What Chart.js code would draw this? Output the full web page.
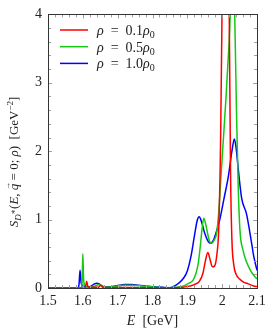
<!DOCTYPE html>
<html>
<head>
<meta charset="utf-8">
<script src="https://cdn.jsdelivr.net/npm/chart.js@4/dist/chart.umd.min.js"></script>
<style>
  html, body { margin: 0; padding: 0; background: #fff; }
  #wrap { width: 274px; height: 333px; }
</style>
</head>
<body>
<div id="wrap"><canvas id="myChart" width="274" height="333"></canvas></div>
<script>
// spectral function data
const redE = [1.5, 1.606, 1.609, 1.611, 1.614, 1.62, 1.645, 1.651, 1.657, 1.68, 1.72, 1.76, 1.85, 1.9, 1.92, 1.935, 1.945, 1.952, 1.959, 1.965, 1.972, 1.978, 1.985, 1.99, 1.995, 2.0, 2.005, 2.01, 2.015, 2.02, 2.024, 2.028, 2.033, 2.04, 2.05, 2.06, 2.075, 2.09, 2.1];
const redS = [0, 0, 0.05, 0.1, 0.03, 0.01, 0.01, 0.04, 0.01, 0.005, 0.008, 0.005, 0.003, 0.02, 0.05, 0.1, 0.22, 0.4, 0.52, 0.42, 0.31, 0.32, 0.5, 0.85, 2.0, 4.2, 9, 11, 9, 4.2, 1.7, 0.7, 0.35, 0.2, 0.13, 0.09, 0.06, 0.03, 0.02];

const greenE = [1.5, 1.595, 1.598, 1.6, 1.602, 1.605, 1.61, 1.62, 1.63, 1.64, 1.647, 1.655, 1.665, 1.68, 1.7, 1.72, 1.74, 1.77, 1.8, 1.84, 1.87, 1.89, 1.905, 1.917, 1.925, 1.931, 1.937, 1.942, 1.947, 1.952, 1.958, 1.964, 1.97, 1.977, 1.984, 1.99, 1.995, 2.0, 2.01, 2.02, 2.026, 2.031, 2.036, 2.041, 2.046, 2.051, 2.06, 2.07, 2.08, 2.09, 2.1];
const greenS = [0, 0, 0.1, 0.5, 0.15, 0.05, 0.02, 0.01, 0.02, 0.04, 0.05, 0.03, 0.015, 0.015, 0.03, 0.04, 0.04, 0.03, 0.015, 0.005, 0.01, 0.03, 0.07, 0.12, 0.22, 0.35, 0.6, 0.85, 1.02, 0.95, 0.8, 0.68, 0.655, 0.7, 0.8, 1.1, 1.5, 1.9, 2.7, 3.6, 4.3, 4.5, 4.0, 2.6, 1.5, 0.85, 0.55, 0.38, 0.27, 0.19, 0.13];

const blueE = [1.5, 1.585, 1.589, 1.592, 1.595, 1.6, 1.61, 1.62, 1.63, 1.64, 1.65, 1.66, 1.68, 1.7, 1.72, 1.74, 1.76, 1.8, 1.83, 1.85, 1.86, 1.875, 1.89, 1.9, 1.91, 1.92, 1.928, 1.934, 1.94, 1.95, 1.96, 1.967, 1.975, 1.985, 1.994, 2.005, 2.018, 2.028, 2.035, 2.04, 2.046, 2.056, 2.07, 2.085, 2.09, 2.1];
const blueS = [0, 0, 0.05, 0.26, 0.08, 0.03, 0.02, 0.02, 0.05, 0.07, 0.05, 0.02, 0.02, 0.035, 0.05, 0.05, 0.04, 0.02, 0.01, 0.005, 0.02, 0.07, 0.15, 0.25, 0.45, 0.75, 0.98, 1.04, 0.98, 0.8, 0.68, 0.655, 0.7, 0.85, 1.02, 1.3, 1.64, 2.0, 2.18, 2.05, 1.75, 1.31, 1.08, 0.64, 0.48, 0.26];

const densities = ["0.1", "0.5", "1.0"];
const colors = ["rgb(255, 0, 0)", "rgb(20, 200, 20)", "rgb(0, 0, 255)"];

const xTicks = [1.5, 1.6, 1.7, 1.8, 1.9, 2.0, 2.1];
const xTickLabels = ["1.5", "1.6", "1.7", "1.8", "1.9", "2", "2.1"];
const yTicks = [0, 1, 2, 3, 4];
const yTickLabels = ["0", "1", "2", "3", "4"];

const FONT = "'Liberation Serif', 'DejaVu Serif', serif";

function toPoints(xs, ys) {
  return xs.map((x, i) => ({ x: x, y: ys[i] }));
}

// draw a line of mixed italic / upright / sub / superscript text
function drawRich(ctx, segs, x, y, align) {
  const fontOf = (s) => (s.i ? "italic " : "") + (s.s || 14) + "px " + FONT;
  let total = 0;
  segs.forEach((s) => {
    ctx.font = fontOf(s);
    s.w = ctx.measureText(s.t).width;
    total += s.w;
  });
  let cx = align === "center" ? x - total / 2 : x;
  segs.forEach((s) => {
    ctx.font = fontOf(s);
    ctx.fillText(s.t, cx, y + (s.dy || 0));
    if (s.accent) {
      ctx.font = "8px " + FONT;
      const aw = ctx.measureText(s.accent).width;
      ctx.fillText(s.accent, cx + s.w / 2 - aw / 2 + 1, y - 8);
    }
    cx += s.w;
  });
}

const frameTicks = {
  id: "frameTicks",
  afterDatasetsDraw(chart) {
    const { ctx, chartArea: a, scales } = chart;
    const xs = scales.x, ys = scales.y;
    ctx.save();
    ctx.strokeStyle = "#a0a0a0";
    ctx.lineWidth = 1;
    ctx.beginPath();
    for (let k = 0; k <= 30; k++) {
      const v = 1.5 + k * 0.02;
      const px = Math.round(xs.getPixelForValue(v)) + 0.5;
      const len = k % 5 === 0 ? 4 : 3;
      ctx.moveTo(px, a.bottom); ctx.lineTo(px, a.bottom - len);
      ctx.moveTo(px, a.top); ctx.lineTo(px, a.top + len);
    }
    for (let k = 0; k <= 20; k++) {
      const v = k * 0.2;
      const py = Math.round(ys.getPixelForValue(v)) + 0.5;
      const len = k % 5 === 0 ? 4 : 3;
      ctx.moveTo(a.left, py); ctx.lineTo(a.left + len, py);
      ctx.moveTo(a.right, py); ctx.lineTo(a.right - len, py);
    }
    ctx.stroke();
    ctx.strokeStyle = "#333";
    ctx.strokeRect(Math.round(a.left) + 0.5, Math.round(a.top) + 0.5, Math.round(a.right - a.left), Math.round(a.bottom - a.top));
    ctx.restore();
  },
  afterDraw(chart) {
    const { ctx, chartArea: a } = chart;
    ctx.save();
    ctx.fillStyle = "#222";
    ctx.textBaseline = "alphabetic";
    // x axis title
    drawRich(ctx, [{ t: "E", i: true }, { t: "  [GeV]" }], (a.left + a.right) / 2, 325, "center");
    // y axis title
    ctx.translate(18, 162);
    ctx.rotate(-Math.PI / 2);
    drawRich(ctx, [
      { t: "S", i: true, s: 13 },
      { t: "D", i: true, s: 9, dy: 3 },
      { t: "\u2217", s: 8, dy: -2 },
      { t: "(", s: 13 },
      { t: "E", i: true, s: 13 },
      { t: ", ", s: 13 },
      { t: "q", i: true, s: 13, accent: "\u2192" },
      { t: " = 0; ", s: 13 },
      { t: "\u03C1", i: true, s: 13 },
      { t: ")  [GeV", s: 13 },
      { t: "\u22122", s: 9, dy: -5 },
      { t: "]", s: 13 },
    ], 0, 0, "center");
    ctx.restore();

    // legend
    ctx.save();
    densities.forEach((d, i) => {
      const ly = 30 + i * 16.7;
      ctx.strokeStyle = colors[i];
      ctx.lineWidth = 1.5;
      ctx.beginPath();
      ctx.moveTo(60, ly);
      ctx.lineTo(88, ly);
      ctx.stroke();
      ctx.fillStyle = "#222";
      drawRich(ctx, [
        { t: "\u03C1", i: true },
        { t: "\u2002=\u2002" + d },
        { t: "\u03C1", i: true },
        { t: "0", s: 10, dy: 3 },
      ], 97, ly + 5, "left");
    });
    ctx.restore();
  },
};

const ctx = document.getElementById("myChart").getContext("2d");
const series = [[redE, redS], [greenE, greenS], [blueE, blueS]];

new Chart(ctx, {
  type: "line",
  data: {
    datasets: series.map((s, i) => ({
      label: "\u03C1 = " + densities[i] + "\u03C10",
      data: toPoints(s[0], s[1]),
      borderColor: colors[i],
      borderWidth: 1.5,
      pointRadius: 0,
      fill: false,
      cubicInterpolationMode: "monotone",
    })),
  },
  options: {
    responsive: false,
    animation: false,
    layout: { padding: { top: 9, right: 17, left: 0, bottom: 0 } },
    plugins: { legend: { display: false }, tooltip: { enabled: false } },
    scales: {
      x: {
        type: "linear",
        min: 1.5,
        max: 2.1,
        grid: { display: false, drawTicks: false },
        border: { display: false },
        afterBuildTicks: (s) => { s.ticks = xTicks.map((v) => ({ value: v })); },
        afterFit: (s) => { s.height = 45; },
        ticks: {
          padding: 5,
          maxRotation: 0,
          autoSkip: false,
          color: "#222",
          font: { family: FONT, size: 14 },
          callback: (v) => xTickLabels[xTicks.findIndex((t) => Math.abs(t - v) < 1e-6)],
        },
      },
      y: {
        type: "linear",
        min: 0,
        max: 4,
        grid: { display: false, drawTicks: false },
        border: { display: false },
        afterBuildTicks: (s) => { s.ticks = yTicks.map((v) => ({ value: v })); },
        afterFit: (s) => { s.width = 48; },
        ticks: {
          padding: 6,
          color: "#222",
          font: { family: FONT, size: 14 },
          callback: (v) => yTickLabels[yTicks.indexOf(v)],
        },
      },
    },
  },
  plugins: [frameTicks],
});
</script>
</body>
</html>
